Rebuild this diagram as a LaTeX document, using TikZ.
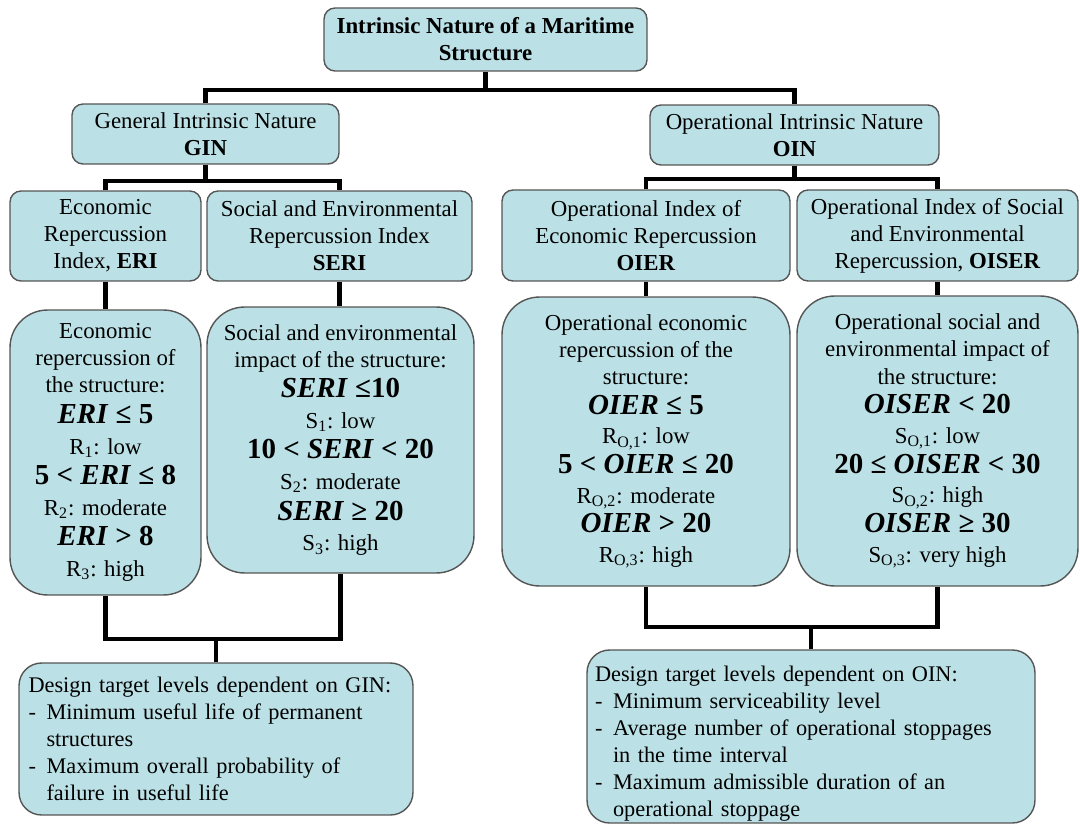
\documentclass[tikz,border=0pt]{standalone}
\usepackage{fontspec}
\setmainfont{Liberation Serif}
\usepackage{tikz}
\definecolor{boxfill}{RGB}{187,225,230}
\definecolor{boxline}{RGB}{85,85,85}
\newcommand{\bi}[1]{\textbf{\textit{#1}}}
\newcommand{\frm}[1]{{\fontsize{16.5}{18}\selectfont\bfseries #1}}
\newcommand{\dashitem}{\makebox[0.36cm][l]{-}}
\newcommand{\dashcont}{\hspace*{0.36cm}}
\tikzset{
  box/.style={draw=boxline, fill=boxfill, line width=0.8pt, rounded corners=0.22cm,
              inner sep=0pt, align=center, font=\fontsize{13}{15.4}\selectfont},
  titlebox/.style={box, font=\fontsize{13}{15.4}\selectfont\bfseries},
  detbox/.style={box, rounded corners=0.75cm},
  tgtbox/.style={box, rounded corners=0.45cm, align=left, font=\fontsize{12.7}{15.3}\selectfont},
  conn/.style={line width=2.4pt, black, line join=miter}
}

\begin{document}
\begin{tikzpicture}[x=0.02cm, y=-0.02cm]
        \useasboundingbox (0,0) rectangle (1080,825);
        % headers
        \node[titlebox, minimum width=6.46cm, minimum height=1.26cm] (top) at (485.5,39.5)
          {Intrinsic Nature of a Maritime\\Structure};
        \node[box, minimum width=5.34cm, minimum height=1.2cm] (gin) at (205.5,134)
          {General Intrinsic Nature\\\textbf{GIN}};
        \node[box, minimum width=5.78cm, minimum height=1.2cm] (oin) at (794.5,135)
          {Operational Intrinsic Nature\\\textbf{OIN}};
        \node[box, minimum width=3.82cm, minimum height=1.8cm] (eri) at (105.5,236)
          {Economic\\Repercussion\\Index, \textbf{ERI}};
        \node[box, minimum width=5.3cm, minimum height=1.8cm] (seri) at (339.5,236)
          {Social and Environmental\\Repercussion Index\\\textbf{SERI}};
        \node[box, minimum width=5.76cm, minimum height=1.82cm] (oier) at (646,235.5)
          {Operational Index of\\Economic Repercussion\\\textbf{OIER}};
        \node[box, minimum width=5.62cm, minimum height=1.82cm] (oiser) at (937.5,235.5)
          {Operational Index of Social\\and Environmental\\Repercussion, \textbf{OISER}};
        % index levels
        \node[detbox, minimum width=3.82cm, minimum height=5.7cm] (eridet) at (105.5,452.5)
          {Economic\\repercussion of\\the structure:\\[2pt]
           \frm{\bi{ERI} ≤ 5}\\[2pt]
           R\textsubscript{1}: low\\[2pt]
           \frm{5 < \bi{ERI} ≤ 8}\\[2pt]
           R\textsubscript{2}: moderate\\[2pt]
           \frm{\bi{ERI} > 8}\\[2pt]
           R\textsubscript{3}: high};
        \node[detbox, minimum width=5.34cm, minimum height=5.32cm] (seridet) at (340.5,440)
          {Social and environmental\\impact of the structure:\\[2pt]
           \frm{\bi{SERI} ≤10}\\[2pt]
           S\textsubscript{1}: low\\[2pt]
           \frm{10 < \bi{SERI} < 20}\\[2pt]
           S\textsubscript{2}: moderate\\[2pt]
           \frm{\bi{SERI} ≥ 20}\\[2pt]
           S\textsubscript{3}: high};
        \node[detbox, minimum width=5.76cm, minimum height=5.78cm] (oierdet) at (646,441.5)
          {Operational economic\\repercussion of the\\structure:\\[1.5pt]
           \frm{\bi{OIER} ≤ 5}\\[1.5pt]
           R\textsubscript{O,1}: low\\[1.5pt]
           \frm{5 < \bi{OIER} ≤ 20}\\[1.5pt]
           R\textsubscript{O,2}: moderate\\[1.5pt]
           \frm{\bi{OIER} > 20}\\[1.5pt]
           R\textsubscript{O,3}: high};
        \node[detbox, minimum width=5.62cm, minimum height=5.8cm] (oiserdet) at (937.5,441)
          {Operational social and\\environmental impact of\\the structure:\\[1.5pt]
           \frm{\bi{OISER} < 20}\\[1.5pt]
           S\textsubscript{O,1}: low\\[1.5pt]
           \frm{20 ≤ \bi{OISER} < 30}\\[1.5pt]
           S\textsubscript{O,2}: high\\[1.5pt]
           \frm{\bi{OISER} ≥ 30}\\[1.5pt]
           S\textsubscript{O,3}: very high};
        % design targets
        \node[tgtbox, text width=7.5cm, inner xsep=0.19cm, minimum height=3.04cm] (gintgt) at (216,739)
          {Design target levels dependent on GIN:\\
           \dashitem Minimum useful life of permanent\\
           \dashcont structures\\
           \dashitem Maximum overall probability of\\
           \dashcont failure in useful life};
        \node[tgtbox, text width=8.64cm, inner xsep=0.16cm, minimum height=3.46cm] (ointgt) at (811,736.5)
          {\rule{0pt}{17pt}Design target levels dependent on OIN:\\
           \dashitem Minimum serviceability level\\
           \dashitem Average number of operational stoppages\\
           \dashcont in the time interval\\
           \dashitem Maximum admissible duration of an\\
           \dashcont operational stoppage};
        % connectors
        \draw[conn] (top.south) -- ++(0,18) coordinate (j1);
        \draw[conn] (gin.north) |- (j1) -| (oin.north);
        \draw[conn] (gin.south) -- ++(0,16) coordinate (j2);
        \draw[conn] (eri.north) |- (j2) -| (seri.north);
        \draw[conn] (oin.south) -- ++(0,13) coordinate (j3);
        \draw[conn] (oier.north) |- (j3) -| (oiser.north);
        \draw[conn] (eri.south) -- (eridet.north);
        \draw[conn] (seri.south) -- (seri.south |- seridet.north);
        \draw[conn] (oier.south) -- (oierdet.north);
        \draw[conn] (oiser.south) -- (oiserdet.north);
        \draw[conn] (gintgt.north) -- ++(0,-23) coordinate (j4);
        \draw[conn] (eridet.south) |- (j4) -| (seridet.south);
        \draw[conn] (ointgt.north) -- ++(0,-22) coordinate (j5);
        \draw[conn] (oierdet.south) |- (j5) -| (oiserdet.south);
      \end{tikzpicture}
\end{document}
